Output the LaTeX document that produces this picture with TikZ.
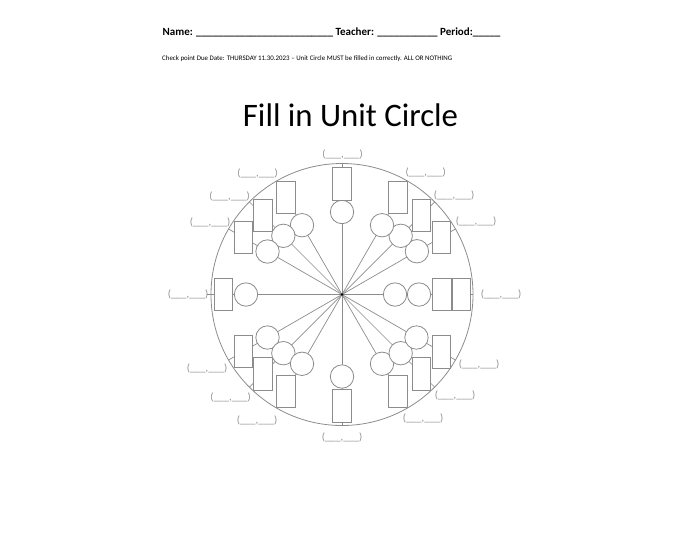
\documentclass[tikz,border=0pt]{standalone}
\usepackage{fontspec}
\setmainfont{Carlito}
\usetikzlibrary{calc}
\definecolor{ln}{HTML}{8C8C8C}
\definecolor{lb}{HTML}{8E8E8E}
\begin{document}
\begin{tikzpicture}[x=1pt,y=-1pt,
  slot/.style={draw=ln, fill=white, line width=0.8pt, minimum width=18.5pt, minimum height=32.5pt, inner sep=0pt},
  dot/.style={draw=ln, fill=white, line width=0.8pt, circle, minimum size=23.4pt, inner sep=0pt},
  pair/.style={text=lb, font=\fontsize{10.5}{12}\selectfont, inner sep=0pt},
  ray/.style={draw=ln, line width=0.7pt}]
\useasboundingbox (0,0) rectangle (700,550);
% header
\node[anchor=base west, inner sep=0pt, font=\fontsize{11}{13}\selectfont\bfseries] (hdr) at (162.5,35.5)
  {Name: \_\_\_\_\_\_\_\_\_\_\_\_\_\_\_\_\_\_\_\_\_\_\_\_\_ Teacher: \_\_\_\_\_\_\_\_\_\_\_ Period:\_\_\_\_\_};
\node[anchor=base west, inner sep=0pt, font=\fontsize{6.9}{8}\selectfont] (due) at (162,60)
  {Check point Due Date: THURSDAY 11.30.2023 – Unit Circle MUST be filled in correctly. ALL OR NOTHING};
\node[anchor=base, inner sep=0pt, font=\fontsize{32.8}{38}\selectfont] (title) at (350.5,126.5) {Fill in Unit Circle};
% unit circle
\coordinate (C) at (342,294.5);
\node[draw=ln, line width=0.8pt, circle, minimum size=262pt, inner sep=0pt] (uc) at (C) {};
\foreach \a in {30,45,60,90,120,135,150,210,225,240,270,300,315,330}{
  \coordinate (e\a) at ($(C)+(\a:131pt)$);
  \draw[ray] (C) -- (e\a);
}
\coordinate (e0) at ($(C)+(0:131pt)$);
\draw[ray] (C) -- (e0);
\coordinate (e180) at ($(C)+(180:135pt)$);
\draw[ray] (C) -- (e180);
\fill[black] (C) circle (1.3pt);
% boxes
\foreach \a/\r/\n in {30/114.5/b1, 45/112/b2, 60/112/b3, 90/110.5/b4, 120/112/b5, 135/112/b6, 150/114/b7,
  180/118.5/b8, 210/114/b9, 225/112/b10, 240/112/b11, 270/111.5/b12, 300/112/b13, 315/112/b14, 330/114.5/b15,
  0/100/b16, 0/119.5/b17}{
  \node[slot] (\n) at ($(C)+(\a:\r pt)$) {};
}
% circles
\foreach \a/\r/\n in {30/86.5/c1, 45/83/c2, 60/80/c3, 90/82.5/c4, 120/80/c5, 135/83/c6, 150/86/c7,
  180/96/c8, 210/86/c9, 225/83/c10, 240/80/c11, 270/82/c12, 300/80/c13, 315/83/c14, 330/86/c15,
  0/53/c16, 0/77/c17}{
  \node[dot] (\n) at ($(C)+(\a:\r pt)$) {};
}
% coordinate labels
\foreach \x/\y/\n in {342.5/154/p1, 257.5/173.5/p2, 229.5/196/p3, 210/222/p4, 188/294/p5,
  207/368/p6, 230.5/397/p7, 257/420/p8, 342/437.5/p9, 423/418.5/p10, 455/395.5/p11, 479/364.5/p12,
  501/294/p13, 476/221/p14, 454/195/p15, 425.7/172/p16}{
  \node[pair] (\n) at (\x,\y) {(\_\_\_,\_\_\_)};
}
\end{tikzpicture}
\end{document}
